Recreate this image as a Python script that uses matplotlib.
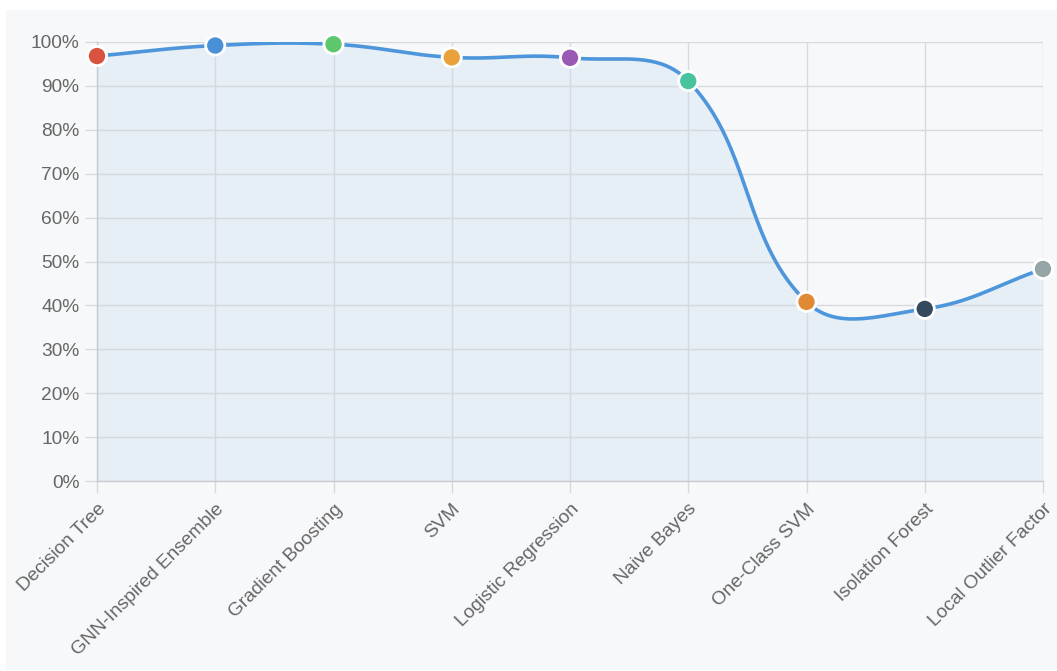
import numpy as np
import matplotlib.pyplot as plt
from matplotlib.patches import Rectangle

models = ["Decision Tree", "GNN-Inspired Ensemble", "Gradient Boosting", "SVM",
          "Logistic Regression", "Naive Bayes", "One-Class SVM", "Isolation Forest",
          "Local Outlier Factor"]
accuracy = [96.8, 99.2, 99.5, 96.5, 96.4, 91.1, 40.8, 39.2, 48.3]
point_colors = ["#d9533f", "#4a90d9", "#5cc86b", "#e9a23b", "#9b59b6",
                "#48c39e", "#e08a35", "#34495e", "#95a5a6"]
y_ticks = list(range(0, 101, 10))
y_labels = [f"{t}%" for t in y_ticks]

line_color = "#4e96db"
fill_color = "#e6eef6"
grid_color = "#d6dadf"
text_color = "#666666"
bg_color = "#f7f8fa"

plt.rcParams["font.family"] = ["Liberation Sans", "DejaVu Sans"]

fig = plt.figure(figsize=(10.57, 6.71), dpi=100, facecolor="white")
fig.patches.append(Rectangle((6 / 1057, 1 / 671), 1 - 6 / 1057, 1 - 11 / 671,
                             transform=fig.transFigure, facecolor=bg_color,
                             edgecolor="none", zorder=-10))
ax = fig.add_axes([97 / 1057, 1 - 481 / 671, (1043 - 97) / 1057, (481 - 42) / 671])
ax.set_facecolor("none")
ax.set_xlim(0, len(models) - 1)
ax.set_ylim(0, 100)


def spline_path(xs, ys, tension=0.4, n=40):
    # cubic bezier through the points in pixel space, control points capped to the area
    pts = ax.transData.transform(np.column_stack([xs, ys]))
    lo = ax.transData.transform((0, 0))
    hi = ax.transData.transform((len(xs) - 1, 100))
    ctrl = []
    for i in range(len(pts)):
        prev = pts[max(i - 1, 0)]
        cur = pts[i]
        nxt = pts[min(i + 1, len(pts) - 1)]
        d01 = np.hypot(*(cur - prev))
        d12 = np.hypot(*(nxt - cur))
        tot = d01 + d12
        s01 = d01 / tot if tot else 0
        s12 = d12 / tot if tot else 0
        cp_prev = cur - tension * s01 * (nxt - prev)
        cp_next = cur + tension * s12 * (nxt - prev)
        cp_prev = np.clip(cp_prev, np.minimum(lo, hi), np.maximum(lo, hi))
        cp_next = np.clip(cp_next, np.minimum(lo, hi), np.maximum(lo, hi))
        ctrl.append((cp_prev, cp_next))
    out = []
    t = np.linspace(0, 1, n)[:, None]
    for i in range(len(pts) - 1):
        p0, p3 = pts[i], pts[i + 1]
        p1, p2 = ctrl[i][1], ctrl[i + 1][0]
        seg = ((1 - t) ** 3) * p0 + 3 * ((1 - t) ** 2) * t * p1 + 3 * (1 - t) * t ** 2 * p2 + t ** 3 * p3
        out.append(seg if i == 0 else seg[1:])
    curve = ax.transData.inverted().transform(np.vstack(out))
    return curve[:, 0], curve[:, 1]


xs = np.arange(len(models))
cx, cy = spline_path(xs, accuracy)

# fill sits under the grid so the grid lines stay visible through it
ax.fill_between(cx, 0, cy, color=fill_color, zorder=0.2, linewidth=0)
ax.plot(cx, cy, color=line_color, linewidth=2.6, zorder=3, solid_capstyle="round")
ax.scatter(xs, accuracy, s=190, c=point_colors, edgecolors="white", linewidths=2, zorder=4,
           clip_on=False)

ax.set_yticks(y_ticks)
ax.set_yticklabels(y_labels)
ax.set_xticks(xs)
ax.set_xticklabels(models, rotation=45, ha="right", va="top", rotation_mode="anchor")
ax.grid(True, color=grid_color, linewidth=1)
ax.set_axisbelow(True)
ax.tick_params(axis="both", length=8.6, width=1, color=grid_color, labelcolor=text_color,
               labelsize=13.8, pad=4)
ax.tick_params(axis="x", pad=5.5)
for side in ["top", "right"]:
    ax.spines[side].set_visible(False)
for side in ["left", "bottom"]:
    ax.spines[side].set_color("#c8ccd2")
    ax.spines[side].set_linewidth(1)

fig.savefig("out.png", dpi=100, facecolor=fig.get_facecolor())
